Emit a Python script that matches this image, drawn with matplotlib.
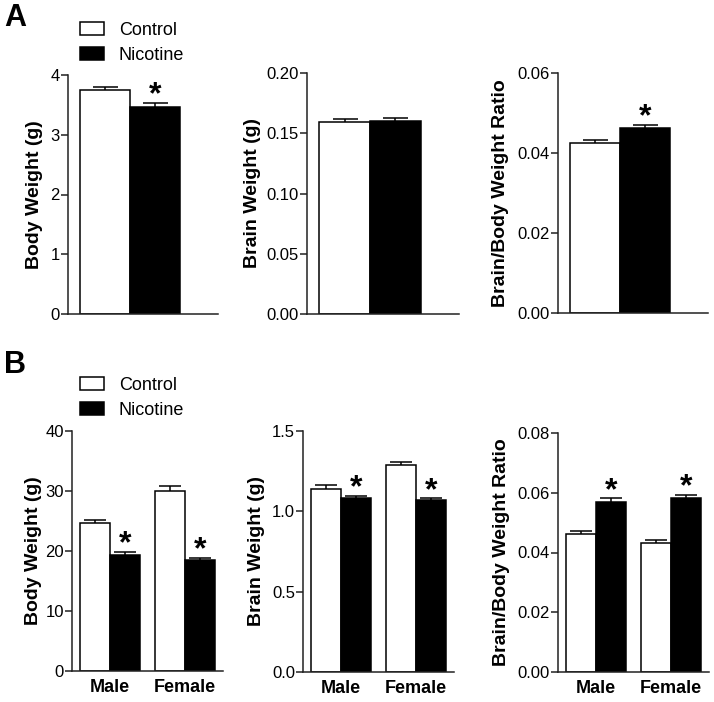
import matplotlib
matplotlib.use("Agg")
import matplotlib.pyplot as plt
import numpy as np
from matplotlib.patches import Patch
from matplotlib.ticker import FormatStrFormatter
from matplotlib.transforms import blended_transform_factory

plt.rcParams['font.family'] = ['Liberation Sans', 'DejaVu Sans']

# panel A: two groups
groups_a = ['Control', 'Nicotine']
a_body = [3.75, 3.47]
a_body_err = [0.05, 0.06]
a_brain = [0.159, 0.160]
a_brain_err = [0.003, 0.003]
a_ratio = [0.0424, 0.0462]
a_ratio_err = [0.0008, 0.0008]
a_body_sig = [False, True]
a_brain_sig = [False, False]
a_ratio_sig = [False, True]

# panel B: sex x treatment
sexes = ['Male', 'Female']
b_body_ctrl = [24.7, 30.0]
b_body_ctrl_err = [0.45, 0.8]
b_body_nic = [19.4, 18.5]
b_body_nic_err = [0.5, 0.4]
b_brain_ctrl = [1.140, 1.286]
b_brain_ctrl_err = [0.021, 0.021]
b_brain_nic = [1.084, 1.070]
b_brain_nic_err = [0.013, 0.012]
b_ratio_ctrl = [0.0463, 0.0433]
b_ratio_ctrl_err = [0.0009, 0.0008]
b_ratio_nic = [0.0568, 0.0583]
b_ratio_nic_err = [0.0013, 0.0011]
b_body_sig = [True, True]
b_brain_sig = [True, True]
b_ratio_sig = [True, True]

W, H = 714, 702
fig = plt.figure(figsize=(W / 100, H / 100), dpi=100)


def px_axes(l, t, r, b):
    return fig.add_axes([l / W, 1 - b / H, (r - l) / W, (b - t) / H])


def style(ax, ymax, step, fmt, ylabel, label_right):
    for s in ['top', 'right']:
        ax.spines[s].set_visible(False)
    for s in ['left', 'bottom']:
        ax.spines[s].set_linewidth(1.1)
        ax.spines[s].set_color('#222222')
    ax.set_ylim(0, ymax)
    ax.set_yticks(np.arange(0, ymax + step / 2, step))
    if fmt:
        ax.yaxis.set_major_formatter(FormatStrFormatter(fmt))
    ax.tick_params(axis='y', direction='out', length=5, width=1.1,
                   pad=0.8, labelsize=12, color='#222222')
    ax.set_ylabel(ylabel, fontsize=14, fontweight='bold')
    # place label by its right edge (pixels from figure left)
    ax.yaxis.set_label_coords(label_right / W, 0.5,
                              transform=blended_transform_factory(fig.transFigure, ax.transAxes))


def upper_err(ax, x, vals, errs, cap):
    # SEM shown upward only, single cap at the top
    _, caps, _ = ax.errorbar(x, vals, yerr=[np.zeros(len(errs)), errs], fmt='none',
                             ecolor='black', elinewidth=1.1, capsize=cap,
                             capthick=1.1, zorder=3)
    caps[0].set_visible(False)


def stars(ax, x, tops, sig):
    for xi, t, s in zip(x, tops, sig):
        if s:
            ax.annotate('*', (xi, t), xytext=(0, -5.5), textcoords='offset points',
                        ha='center', va='bottom', fontsize=23, fontweight='bold')


def panel_a(ax, vals, errs, sig, ymax, step, fmt, ylabel, lr):
    x = np.arange(len(vals))
    ax.bar(x, vals, width=1, color=['white', 'black'], edgecolor='black',
           linewidth=1.1, zorder=2)
    upper_err(ax, x, vals, errs, 9)
    ax.set_xlim(-0.74, 2.25)
    ax.set_xticks([])
    style(ax, ymax, step, fmt, ylabel, lr)
    stars(ax, x, np.array(vals) + np.array(errs), sig)


def panel_b(ax, ctrl, ctrl_err, nic, nic_err, sig, ymax, step, fmt, ylabel, lr):
    g = np.array([0.0, 2.5])
    ax.bar(g - 0.5, ctrl, width=1, color='white', edgecolor='black',
           linewidth=1.1, zorder=2)
    ax.bar(g + 0.5, nic, width=1, color='black', edgecolor='black',
           linewidth=1.1, zorder=2)
    upper_err(ax, g - 0.5, ctrl, ctrl_err, 8)
    upper_err(ax, g + 0.5, nic, nic_err, 8)
    ax.set_xlim(-1.27, 3.76)
    ax.set_xticks(g)
    ax.set_xticklabels(sexes, fontsize=13, fontweight='bold')
    ax.tick_params(axis='x', length=0, pad=6)
    style(ax, ymax, step, fmt, ylabel, lr)
    stars(ax, g + 0.5, np.array(nic) + np.array(nic_err), sig)


a1 = px_axes(68, 75, 218, 314)
a2 = px_axes(307, 73, 459, 314)
a3 = px_axes(558, 73, 708, 313)
panel_a(a1, a_body, a_body_err, a_body_sig, 4, 1, None, 'Body Weight (g)', 43)
panel_a(a2, a_brain, a_brain_err, a_brain_sig, 0.20, 0.05, '%.2f', 'Brain Weight (g)', 261)
panel_a(a3, a_ratio, a_ratio_err, a_ratio_sig, 0.06, 0.02, '%.2f',
        'Brain/Body Weight Ratio', 509)

b1 = px_axes(72, 431, 223, 671)
b2 = px_axes(303, 431, 454, 672)
b3 = px_axes(558, 433, 709, 672)
panel_b(b1, b_body_ctrl, b_body_ctrl_err, b_body_nic, b_body_nic_err, b_body_sig,
        40, 10, None, 'Body Weight (g)', 42)
panel_b(b2, b_brain_ctrl, b_brain_ctrl_err, b_brain_nic, b_brain_nic_err, b_brain_sig,
        1.5, 0.5, '%.1f', 'Brain Weight (g)', 265)
panel_b(b3, b_ratio_ctrl, b_ratio_ctrl_err, b_ratio_nic, b_ratio_nic_err, b_ratio_sig,
        0.08, 0.02, '%.2f', 'Brain/Body Weight Ratio', 510)

handles = [Patch(facecolor='white', edgecolor='black', linewidth=1.1),
           Patch(facecolor='black', edgecolor='black', linewidth=1.1)]
for ax, top in [(a1, 22), (b1, 377)]:
    ax.legend(handles, groups_a, loc='upper left',
              bbox_to_anchor=(80 / W, 1 - top / H), bbox_transform=fig.transFigure,
              frameon=False, fontsize=13, borderpad=0, borderaxespad=0,
              handlelength=1.35, handleheight=0.75, handletextpad=0.8,
              labelspacing=0.45)

fig.text(4 / W, 1 - 18 / H, 'A', fontsize=22, fontweight='bold', va='center', ha='left')
fig.text(4 / W, 1 - 365 / H, 'B', fontsize=22, fontweight='bold', va='center', ha='left')

fig.savefig('out.png', dpi=100)
